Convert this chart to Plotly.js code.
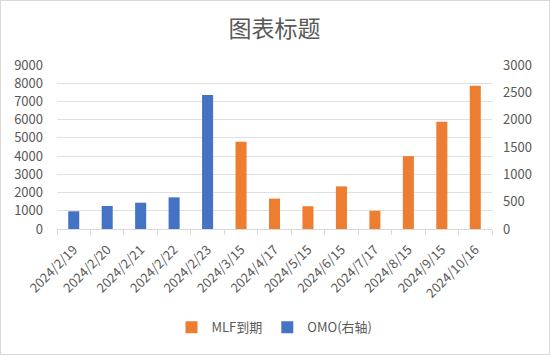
<!DOCTYPE html>
<html>
<head>
<meta charset="utf-8">
<script src="https://cdn.plot.ly/plotly-3.0.1.min.js"></script>
<style>
  html, body { margin: 0; padding: 0; background: #fff; }
  #frame { position: absolute; left: 0; top: 0; width: 548px; height: 353px; border: 1px solid #d9d9d9; }
  #chart { position: absolute; left: -1px; top: -1px; width: 550px; height: 355px; }
</style>
</head>
<body>
<div id="frame"><div id="chart"></div></div>
<script>
const categories = ["2024/2/19","2024/2/20","2024/2/21","2024/2/22","2024/2/23","2024/3/15","2024/4/17","2024/5/15","2024/6/15","2024/7/17","2024/8/15","2024/9/15","2024/10/16"];
const mlfValues = [null, null, null, null, null, 4790, 1670, 1250, 2340, 1000, 4000, 5880, 7860];
const omoValues = [324, 421, 481, 579, 2450, null, null, null, null, null, null, null, null];
const leftTicks = [0,1000,2000,3000,4000,5000,6000,7000,8000,9000];
const rightTicks = [0,500,1000,1500,2000,2500,3000];

const fontFam = '"Noto Sans CJK SC", "Noto Sans", sans-serif';
const gray = '#595959';

const traces = [
  { type: 'bar', name: 'MLF到期', x: categories, y: mlfValues, yaxis: 'y',
    marker: { color: '#ED7D31' }, width: 0.33 },
  { type: 'bar', name: 'OMO(右轴)', x: categories, y: omoValues, yaxis: 'y2',
    marker: { color: '#4472C4' }, width: 0.33 }
];

const layout = {
  width: 550, height: 355,
  margin: { l: 57, r: 58, t: 65, b: 126 },
  paper_bgcolor: 'rgba(0,0,0,0)', plot_bgcolor: 'rgba(0,0,0,0)',
  font: { family: fontFam, size: 13, color: gray },
  title: { text: '图表标题', font: { family: fontFam, size: 23, color: gray },
           x: 0.5, xanchor: 'center', y: 1 - 29/355, yanchor: 'middle', xref: 'paper' },
  showlegend: true,
  legend: { orientation: 'h', x: 0.5, xanchor: 'center', y: -0.6, yanchor: 'middle',
            font: { family: fontFam, size: 13, color: gray }, traceorder: 'normal',
            itemwidth: 30 },
  barmode: 'overlay',
  xaxis: {
    type: 'category', tickangle: -45, showgrid: false,
    showline: true, linecolor: '#d9d9d9', linewidth: 1,
    ticks: 'outside', tickson: 'boundaries', ticklen: 5, tickcolor: '#d9d9d9',
    ticklabelstandoff: 7,
    tickfont: { family: fontFam, size: 13, color: gray }, fixedrange: true
  },
  yaxis: {
    range: [0, 9000], tickvals: leftTicks, ticktext: leftTicks.map(String),
    showgrid: true, gridcolor: '#e0e0e0', gridwidth: 1, zeroline: false,
    showline: false, ticks: '', ticklabelstandoff: 13,
    tickfont: { family: fontFam, size: 13, color: gray }
  },
  yaxis2: {
    range: [0, 3000], tickvals: rightTicks, ticktext: rightTicks.map(String),
    overlaying: 'y', side: 'right', showgrid: false, zeroline: false, showline: false,
    ticks: '', ticklabelstandoff: 10, tickfont: { family: fontFam, size: 13, color: gray }
  }
};

Plotly.newPlot('chart', traces, layout, { displayModeBar: false, staticPlot: true });
</script>
</body>
</html>
